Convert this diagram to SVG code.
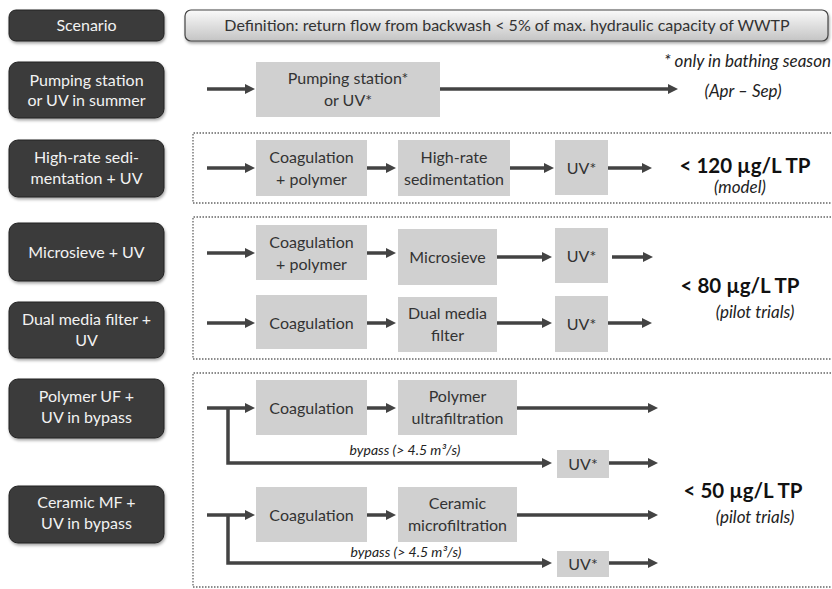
<svg xmlns="http://www.w3.org/2000/svg" width="832" height="589" viewBox="0 0 832 589">
<defs>
<linearGradient id="defg" x1="0" y1="0" x2="0" y2="1">
<stop offset="0" stop-color="#fafafa"/>
<stop offset="1" stop-color="#c4c4c4"/>
</linearGradient>
<filter id="sh" x="-10%" y="-10%" width="120%" height="130%">
<feDropShadow dx="1" dy="2" stdDeviation="1.5" flood-color="#000" flood-opacity="0.35"/>
</filter>
<marker id="ah" viewBox="0 0 10 10" refX="1" refY="5" markerWidth="10" markerHeight="10" markerUnits="userSpaceOnUse" orient="auto">
<path d="M0,0 L10,5 L0,10 z" fill="#434343"/>
</marker>
</defs>
<style>
.dk{fill:#3b3b3b;stroke:#222;stroke-width:1;filter:url(#sh)}
.dt{font-family:Lato,"Open Sans",sans-serif;font-size:16px;fill:#f2f2f2;text-anchor:middle}
.gb{fill:#d0d0d0}
.gt{font-family:Lato,"Open Sans",sans-serif;font-size:16px;fill:#333;text-anchor:middle}
.ar{stroke:#434343;stroke-width:3.5;fill:none;marker-end:url(#ah)}
.dot{fill:none;stroke:#666;stroke-width:1.3;stroke-dasharray:1.5 1.5}
.big{font-family:Lato,"Open Sans",sans-serif;font-size:20.5px;font-weight:bold;fill:#111;text-anchor:middle}
.it{font-family:Lato,"Open Sans",sans-serif;font-size:17px;font-style:italic;fill:#222;text-anchor:middle}
.its{font-family:Lato,"Open Sans",sans-serif;font-size:14px;font-style:italic;fill:#222;text-anchor:middle}
</style>
<rect width="832" height="589" fill="#fff"/>

<g id="frames">
<path class="dot" d="M840,133 H193 V203 H840"/>
<path class="dot" d="M840,217 H193 V359 H840"/>
<path class="dot" d="M840,373 H193 V587 H840"/>
</g>

<g id="definition">
<rect x="185" y="10" width="643" height="31" rx="6" fill="url(#defg)" stroke="#444" stroke-width="1.2" filter="url(#sh)"/>
<text class="gt" x="507" y="31" fill="#222">Definition: return flow from backwash &lt; 5% of max. hydraulic capacity of WWTP</text>
</g>

<g id="scenario"><rect class="dk" x="9" y="10" width="155" height="31" rx="7"/><text class="dt" x="86.5" y="31">Scenario</text></g>
<g id="s-pumping"><rect class="dk" x="9" y="62" width="155" height="56" rx="9"/><text class="dt" x="86.5" y="86">Pumping station</text><text class="dt" x="86.5" y="106">or UV in summer</text></g>
<g id="s-highrate"><rect class="dk" x="9" y="140" width="155" height="57" rx="9"/><text class="dt" x="86.5" y="163">High-rate sedi-</text><text class="dt" x="86.5" y="184">mentation + UV</text></g>
<g id="s-microsieve"><rect class="dk" x="9" y="223" width="155" height="58" rx="9"/><text class="dt" x="86.5" y="258">Microsieve + UV</text></g>
<g id="s-dualmedia"><rect class="dk" x="9" y="302" width="155" height="56" rx="9"/><text class="dt" x="86.5" y="325">Dual media filter +</text><text class="dt" x="86.5" y="346">UV</text></g>
<g id="s-polymeruf"><rect class="dk" x="9" y="379" width="155" height="59" rx="9"/><text class="dt" x="86.5" y="402">Polymer UF +</text><text class="dt" x="86.5" y="423">UV in bypass</text></g>
<g id="s-ceramicmf"><rect class="dk" x="9" y="486" width="155" height="57" rx="9"/><text class="dt" x="86.5" y="508">Ceramic MF +</text><text class="dt" x="86.5" y="529">UV in bypass</text></g>

<g id="p-pump"><rect class="gb" x="256" y="62" width="184" height="55"/><text class="gt" x="348" y="84">Pumping station*</text><text class="gt" x="348" y="106">or UV*</text></g>

<g id="p-hr-coag"><rect class="gb" x="256" y="140" width="111" height="56"/><text class="gt" x="311.5" y="163">Coagulation</text><text class="gt" x="311.5" y="185">+ polymer</text></g>
<g id="p-hr-sed"><rect class="gb" x="398" y="140" width="112" height="56"/><text class="gt" x="454" y="163">High-rate</text><text class="gt" x="454" y="185">sedimentation</text></g>
<g id="p-hr-uv"><rect class="gb" x="555" y="140" width="53" height="55"/><text class="gt" x="581.5" y="174">UV*</text></g>

<g id="p-ms-coag"><rect class="gb" x="256" y="225" width="111" height="55"/><text class="gt" x="311.5" y="248">Coagulation</text><text class="gt" x="311.5" y="270">+ polymer</text></g>
<g id="p-ms"><rect class="gb" x="398" y="229" width="99" height="56"/><text class="gt" x="447.5" y="263">Microsieve</text></g>
<g id="p-ms-uv"><rect class="gb" x="555" y="228" width="53" height="55"/><text class="gt" x="581.5" y="262">UV*</text></g>

<g id="p-dm-coag"><rect class="gb" x="256" y="295" width="111" height="54"/><text class="gt" x="311.5" y="329">Coagulation</text></g>
<g id="p-dm"><rect class="gb" x="398" y="297" width="99" height="55"/><text class="gt" x="447.5" y="319">Dual media</text><text class="gt" x="447.5" y="341">filter</text></g>
<g id="p-dm-uv"><rect class="gb" x="555" y="296" width="53" height="56"/><text class="gt" x="581.5" y="330">UV*</text></g>

<g id="p-uf-coag"><rect class="gb" x="256" y="380" width="111" height="55"/><text class="gt" x="311.5" y="414">Coagulation</text></g>
<g id="p-uf"><rect class="gb" x="398" y="380" width="119" height="55"/><text class="gt" x="457.5" y="402">Polymer</text><text class="gt" x="457.5" y="424">ultrafiltration</text></g>
<g id="p-uf-uv"><rect class="gb" x="557" y="450" width="52" height="28"/><text class="gt" x="583" y="470">UV*</text></g>

<g id="p-mf-coag"><rect class="gb" x="256" y="487" width="111" height="55"/><text class="gt" x="311.5" y="521">Coagulation</text></g>
<g id="p-mf"><rect class="gb" x="398" y="487" width="119" height="55"/><text class="gt" x="457.5" y="509">Ceramic</text><text class="gt" x="457.5" y="531">microfiltration</text></g>
<g id="p-mf-uv"><rect class="gb" x="557" y="551" width="52" height="26"/><text class="gt" x="583" y="570">UV*</text></g>

<g id="connectors">
<path class="ar" d="M207,89 H246"/>
<path class="ar" d="M440,89 H669"/>

<path class="ar" d="M207,168 H246"/>
<path class="ar" d="M367,168 H387"/>
<path class="ar" d="M510,168 H545"/>
<path class="ar" d="M608,168 H643"/>

<path class="ar" d="M207,253 H246"/>
<path class="ar" d="M367,253 H387"/>
<path class="ar" d="M497,257 H543"/>
<path class="ar" d="M612,257 H644"/>

<path class="ar" d="M207,323 H246"/>
<path class="ar" d="M367,323 H387"/>
<path class="ar" d="M497,323 H543"/>
<path class="ar" d="M608,323 H643"/>

<path class="ar" d="M207,408 H246"/>
<path class="ar" d="M367,408 H387"/>
<path class="ar" d="M517,408 H649"/>
<path class="ar" d="M228,408 V463 H543"/>
<path class="ar" d="M609,463 H649"/>

<path class="ar" d="M207,515 H246"/>
<path class="ar" d="M367,515 H387"/>
<path class="ar" d="M517,515 H649"/>
<path class="ar" d="M228,515 V563 H543"/>
<path class="ar" d="M609,563 H649"/>
</g>

<g id="labels">
<text class="it" x="831" y="67" style="text-anchor:end">* only in bathing season</text>
<text class="it" x="743" y="97">(Apr – Sep)</text>
<text class="big" x="745" y="173">&lt; 120 µg/L TP</text>
<text class="it" x="740" y="193">(model)</text>
<text class="big" x="740" y="293">&lt; 80 µg/L TP</text>
<text class="it" x="755" y="318">(pilot trials)</text>
<text class="big" x="743" y="498">&lt; 50 µg/L TP</text>
<text class="it" x="755" y="523">(pilot trials)</text>
<text class="its" x="405" y="455">bypass (&gt; 4.5 m³/s)</text>
<text class="its" x="406" y="557">bypass (&gt; 4.5 m³/s)</text>
</g>
</svg>
